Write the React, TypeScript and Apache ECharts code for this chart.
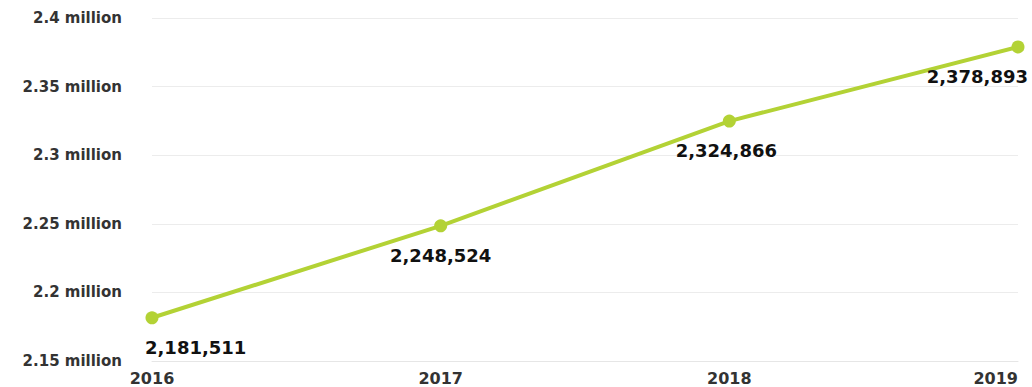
import React, { useEffect, useRef } from "react";
import * as echarts from "echarts";

const years = ["2016", "2017", "2018", "2019"];
const population = [2181511, 2248524, 2324866, 2378893];
const yMin = 2150000;
const yMax = 2400000;
const yStep = 50000;

export default function App() {
  const ref = useRef<HTMLDivElement>(null);
  useEffect(() => {
    document.body.style.margin = "0";
    const chart = echarts.init(ref.current!, null, { renderer: "svg" });
    const labelPlacement = [
      { align: "left", offset: [-7, 3] },
      { align: "center", offset: [0, 3] },
      { align: "center", offset: [-3, 3] },
      { align: "right", offset: [10, 3] },
    ];
    chart.setOption({
      animation: false,
      backgroundColor: "#fff",
      grid: { left: 152, right: 14, top: 18, bottom: 26, containLabel: false },
      xAxis: {
        type: "category",
        data: years,
        boundaryGap: false,
        axisLine: { show: true, lineStyle: { color: "#e6e6e6" } },
        axisTick: { show: false },
        splitLine: { show: false },
        axisLabel: {
          color: "#333",
          fontFamily: "DejaVu Sans",
          fontWeight: "bold",
          fontSize: 16,
          margin: 9,
          alignMaxLabel: "right",
        },
      },
      yAxis: {
        type: "value",
        min: yMin,
        max: yMax,
        interval: yStep,
        axisLine: { show: false },
        axisTick: { show: false },
        splitLine: { lineStyle: { color: "#ececec" } },
        axisLabel: {
          color: "#333",
          fontFamily: "DejaVu Sans",
          fontWeight: "bold",
          fontSize: 15,
          margin: 30,
          formatter: (v: number) => parseFloat((v / 1e6).toFixed(2)) + " million",
        },
      },
      series: [
        {
          type: "line",
          data: population.map((v, i) => ({
            value: v,
            label: { align: labelPlacement[i].align, offset: labelPlacement[i].offset },
          })),
          lineStyle: { color: "#b3d235", width: 4 },
          itemStyle: { color: "#b3d235" },
          symbol: "circle",
          symbolSize: 13,
          label: {
            show: true,
            position: "bottom",
            distance: 11,
            color: "#111",
            fontFamily: "DejaVu Sans",
            fontWeight: "bold",
            fontSize: 18,
            formatter: (p: any) => Number(p.value).toLocaleString("en-US"),
          },
        },
      ],
    });
    return () => chart.dispose();
  }, []);
  return <div ref={ref} style={{ width: 1032, height: 387, position: "absolute", left: 0, top: 0 }} />;
}
